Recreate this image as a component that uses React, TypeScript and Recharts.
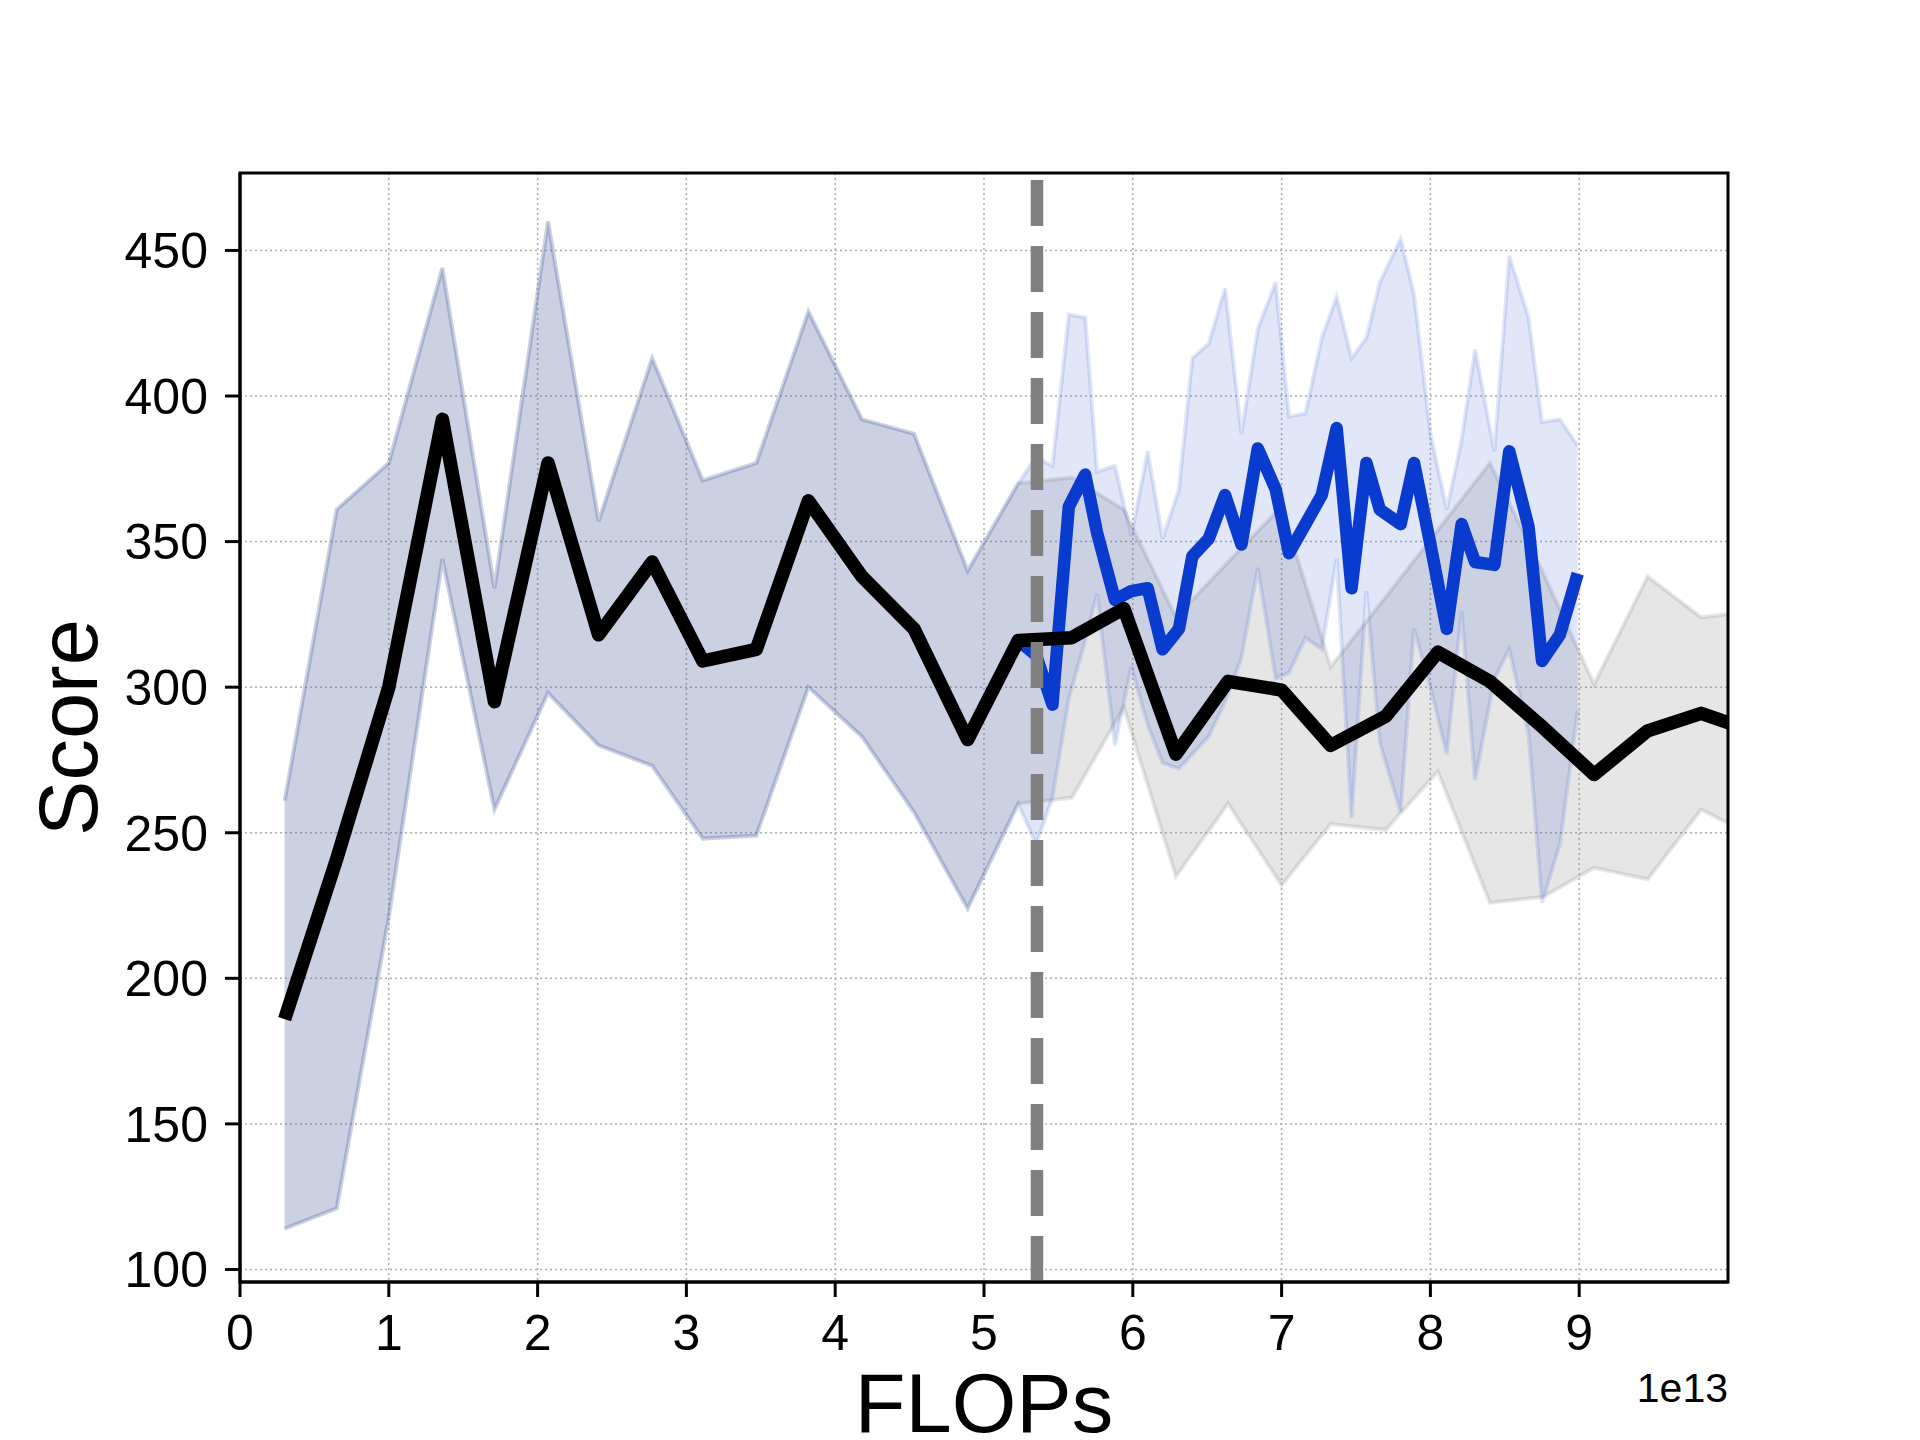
import React from "react";
import {
  ComposedChart,
  Line,
  Area,
  XAxis,
  YAxis,
  CartesianGrid,
  ReferenceLine,
  ReferenceArea,
  Label,
} from "recharts";

const FONT = '"Liberation Sans", Arial, sans-serif';

// baseline run (black line, grey band)
const baseX = [0.3, 0.65, 1.0, 1.36, 1.71, 2.07, 2.41, 2.77, 3.11, 3.47, 3.82, 4.18, 4.53, 4.89, 5.23, 5.59, 5.94, 6.29, 6.64, 7.0, 7.33, 7.7, 8.05, 8.4, 8.76, 9.1, 9.46, 9.82, 10.16];
const baseMean = [186, 241, 300, 392, 295, 377, 318, 343, 309, 313, 364, 338, 320, 282, 316, 317, 327, 277, 302, 299, 280, 290, 312, 302, 286, 270, 285, 291, 285];
const baseHigh = [261, 361, 377, 444, 334, 460, 357, 413, 371, 377, 429, 392, 387, 340, 370, 372, 361, 324, 343, 362, 307, 331, 354, 377, 339, 301, 338, 324, 326];
const baseLow = [114, 121, 221, 344, 258, 298, 280, 273, 248, 249, 300, 283, 257, 224, 260, 262, 293, 235, 260, 232, 253, 251, 271, 226, 228, 238, 234, 258, 249];

// branched run (blue), starts from the baseline checkpoint at 5.23e13
const ftX = [5.23, 5.35, 5.46, 5.57, 5.68, 5.76, 5.88, 5.99, 6.1, 6.2, 6.31, 6.4, 6.51, 6.62, 6.73, 6.84, 6.96, 7.05, 7.16, 7.27, 7.37, 7.47, 7.57, 7.66, 7.8, 7.89, 8.0, 8.11, 8.21, 8.3, 8.43, 8.53, 8.66, 8.75, 8.87, 8.99];
const ftMean = [316, 311, 294, 362, 373, 353, 330, 333, 334, 313, 320, 345, 351, 366, 349, 382, 368, 346, 356, 366, 389, 334, 377, 361, 356, 377, 349, 320, 356, 343, 342, 381, 355, 309, 318, 339];
const ftHigh = [370, 379, 376, 428, 427, 374, 376, 352, 381, 351, 368, 413, 418, 437, 387, 423, 439, 393, 394, 420, 434, 413, 420, 439, 454, 435, 387, 361, 385, 416, 381, 448, 427, 391, 392, 383];
const ftLow = [260, 246, 262, 296, 316, 332, 280, 307, 287, 274, 272, 277, 283, 295, 310, 341, 303, 305, 317, 313, 344, 255, 333, 281, 257, 320, 300, 277, 326, 268, 303, 313, 284, 226, 246, 292];

const branchX = 5.356;
const xTicks = [0, 1, 2, 3, 4, 5, 6, 7, 8, 9];
const yTicks = [100, 150, 200, 250, 300, 350, 400, 450];
const xDomain = [0, 10];
const yDomain = [95.7, 476.6];

const baseLine = baseX.map((x, i) => ({ x, y: baseMean[i] }));
const baseBand = baseX.map((x, i) => ({ x, band: [baseLow[i], baseHigh[i]] }));
const ftLine = ftX.map((x, i) => ({ x, y: ftMean[i] }));
const ftBand = [
  ...baseX.filter((x) => x < ftX[0]).map((x, i) => ({ x, band: [baseLow[i], baseHigh[i]] })),
  ...ftX.map((x, i) => ({ x, band: [ftLow[i], ftHigh[i]] })),
];

const BLUE = "#0a3bcf";
const GREY = "#808080";

function XLabel(props: any) {
  const { x, y, width } = props.viewBox;
  return (
    <g fontFamily={FONT} fill="#000">
      <text x={x + width / 2} y={y + 150} textAnchor="middle" fontSize={83}>FLOPs</text>
      <text x={x + width} y={y + 120} textAnchor="end" fontSize={41}>1e13</text>
    </g>
  );
}

function YLabel(props: any) {
  const { y, height } = props.viewBox;
  const cy = y + height / 2;
  return (
    <text x={97} y={cy} transform={`rotate(-90, 97, ${cy})`} textAnchor="middle" fontSize={83} fontFamily={FONT} fill="#000">
      Score
    </text>
  );
}

export default function App() {
  const axisStyle = { stroke: "#000", strokeWidth: 3 };
  const tickFont = { fill: "#000", fontSize: 50, fontFamily: FONT };
  return (
    <div>
      <style>{`body{margin:0}`}</style>
      <ComposedChart width={1920} height={1440} margin={{ top: 173, right: 192, bottom: 0, left: 0 }}>
        <XAxis
          type="number"
          dataKey="x"
          domain={xDomain}
          ticks={xTicks}
          interval={0}
          allowDataOverflow
          height={158}
          tickSize={15}
          tickMargin={17}
          tick={tickFont}
          tickLine={axisStyle}
          axisLine={axisStyle}
        >
          <Label content={XLabel} />
        </XAxis>
        <YAxis
          type="number"
          domain={yDomain}
          ticks={yTicks}
          interval={0}
          allowDataOverflow
          width={240}
          tickSize={15}
          tickMargin={17}
          tick={tickFont}
          tickLine={axisStyle}
          axisLine={axisStyle}
        >
          <Label content={YLabel} />
        </YAxis>
        <Area
          data={baseBand}
          dataKey="band"
          type="linear"
          fill={GREY}
          fillOpacity={0.2}
          stroke={GREY}
          strokeOpacity={0.2}
          strokeWidth={4}
          isAnimationActive={false}
        />
        <Area
          data={ftBand}
          dataKey="band"
          type="linear"
          fill={BLUE}
          fillOpacity={0.12}
          stroke={BLUE}
          strokeOpacity={0.12}
          strokeWidth={4}
          isAnimationActive={false}
        />
        <CartesianGrid stroke="#b0b0b0" strokeDasharray="2 3" strokeWidth={1.5} />
        <Line
          data={ftLine}
          dataKey="y"
          type="linear"
          stroke={BLUE}
          strokeWidth={12.5}
          strokeLinejoin="round"
          dot={false}
          isAnimationActive={false}
        />
        <Line
          data={baseLine}
          dataKey="y"
          type="linear"
          stroke="#000"
          strokeWidth={13.5}
          strokeLinejoin="round"
          dot={false}
          isAnimationActive={false}
        />
        <ReferenceLine x={branchX} stroke={GREY} strokeWidth={12.5} strokeDasharray="46 20" />
        <ReferenceArea
          x1={xDomain[0]}
          x2={xDomain[1]}
          y1={yDomain[0]}
          y2={yDomain[1]}
          fill="none"
          stroke="#000"
          strokeWidth={3}
          ifOverflow="visible"
        />
      </ComposedChart>
    </div>
  );
}
